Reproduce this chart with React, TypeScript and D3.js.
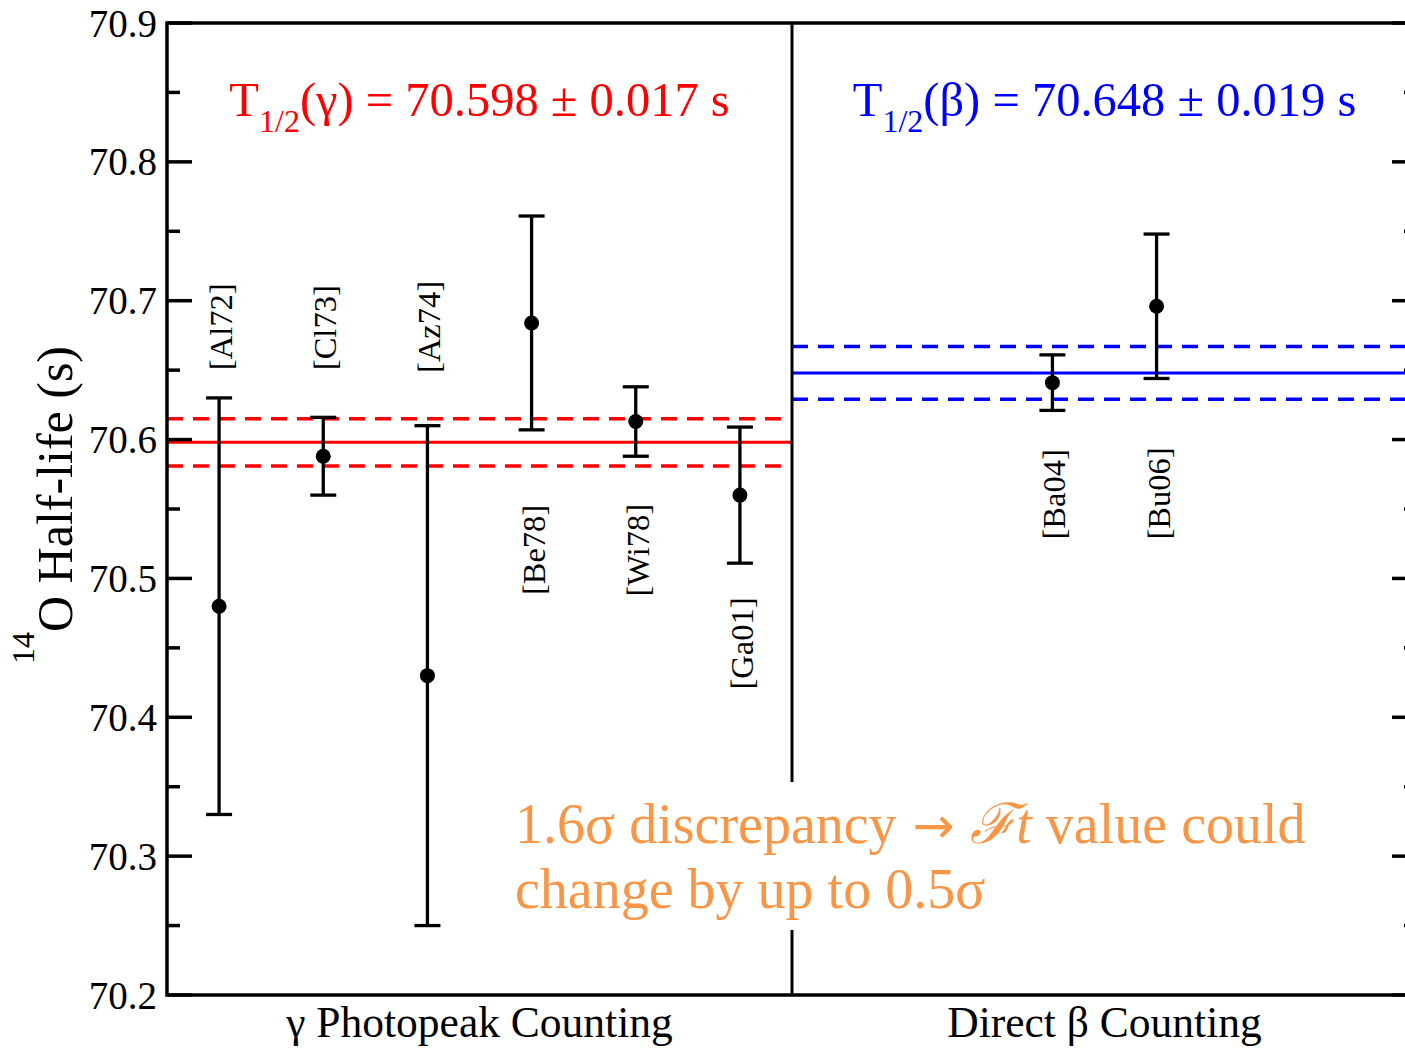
import React from "react";
import * as d3 from "d3";

// measurements of the 14O half-life
const refs = ["[Al72]", "[Cl73]", "[Az74]", "[Be78]", "[Wi78]", "[Ga01]", "[Ba04]", "[Bu06]"];
const slots = [0.5, 1.5, 2.5, 3.5, 4.5, 5.5, 8.5, 9.5];
const halfLives = [70.48, 70.588, 70.43, 70.684, 70.613, 70.56, 70.641, 70.696];
const errors = [0.15, 0.028, 0.18, 0.077, 0.025, 0.049, 0.02, 0.052];
const labelAt = [70.65, 70.65, 70.648, 70.488, 70.487, 70.42, 70.528, 70.528];

// weighted averages per method
const groups = ["γ Photopeak Counting", "Direct β Counting"];
const groupStart = [0, 6];
const groupEnd = [6, 12];
const fitSymbols = ["γ", "β"];
const fitValues = [70.598, 70.648];
const fitErrors = [0.017, 0.019];
const fitColors = ["#ff0000", "#0000ff"];

const yTicks = [70.2, 70.3, 70.4, 70.5, 70.6, 70.7, 70.8, 70.9];
const yMinor = [70.25, 70.35, 70.45, 70.55, 70.65, 70.75, 70.85];

const note = ["1.6σ discrepancy", "value could", "change by up to 0.5σ"];

const W = 1405;
const H = 1049;
const margin = { top: 23, right: -12, bottom: 54, left: 167 };
const font = "'Liberation Serif', 'Times New Roman', serif";

export default function App() {
  const x = d3.scaleLinear().domain([0, 12]).range([margin.left, W - margin.right]);
  const y = d3.scaleLinear().domain([70.2, 70.9]).range([H - margin.bottom, margin.top]);
  const x0 = x(0);
  const x1 = x(12);
  const yb = y(70.2);
  const yt = y(70.9);
  const cap = 13;

  return (
    <svg
      width={W}
      height={H}
      style={{ position: "absolute", left: 0, top: 0, background: "#fff" }}
      fontFamily={font}
    >
      {/* fit bands */}
      {fitValues.map((v, i) => (
        <g key={"fit" + i} stroke={fitColors[i]} strokeWidth={3}>
          <line x1={x(groupStart[i])} x2={x(groupEnd[i])} y1={y(v)} y2={y(v)} />
          {[-1, 1].map((s) => (
            <line
              key={s}
              x1={x(groupStart[i])}
              x2={x(groupEnd[i])}
              y1={y(v + s * fitErrors[i])}
              y2={y(v + s * fitErrors[i])}
              strokeDasharray="16 10"
              strokeWidth={3.5}
            />
          ))}
        </g>
      ))}

      {/* frame */}
      <g stroke="#000" strokeWidth={3.5} fill="none">
        <rect x={x0} y={yt} width={x1 - x0} height={yb - yt} />
        <line x1={x(6)} x2={x(6)} y1={yt} y2={yb} strokeWidth={3} />
        {yTicks.map((t) => (
          <g key={t}>
            <line x1={x0} x2={x0 + 25} y1={y(t)} y2={y(t)} />
            <line x1={x1} x2={x1 - 25} y1={y(t)} y2={y(t)} />
          </g>
        ))}
        {yMinor.map((t) => (
          <g key={t}>
            <line x1={x0} x2={x0 + 13} y1={y(t)} y2={y(t)} />
            <line x1={x1} x2={x1 - 13} y1={y(t)} y2={y(t)} />
          </g>
        ))}
      </g>

      {/* tick labels */}
      {yTicks.map((t) => (
        <text
          key={"l" + t}
          x={x0 - 10}
          y={y(t)}
          textAnchor="end"
          dominantBaseline="central"
          fontSize={39}
        >
          {t.toFixed(1)}
        </text>
      ))}

      {/* y axis title */}
      <text transform={`translate(72, 664) rotate(-90)`} fontSize={50}>
        <tspan fontSize={32} dy={-38}>14</tspan>
        <tspan dy={38}>O Half-life (s)</tspan>
      </text>

      {/* error bars */}
      {halfLives.map((v, i) => {
        const cx = x(slots[i]);
        const lo = y(v - errors[i]);
        const hi = y(v + errors[i]);
        return (
          <g key={refs[i]}>
            <g stroke="#000" strokeWidth={3.3}>
              <line x1={cx} x2={cx} y1={lo} y2={hi} />
              <line x1={cx - cap} x2={cx + cap} y1={lo} y2={lo} />
              <line x1={cx - cap} x2={cx + cap} y1={hi} y2={hi} />
            </g>
            <circle cx={cx} cy={y(v)} r={7.5} fill="#000" />
            <text
              transform={`translate(${cx + 2}, ${y(labelAt[i])}) rotate(-90)`}
              dominantBaseline="central"
              fontSize={32.5}
            >
              {refs[i]}
            </text>
          </g>
        );
      })}

      {/* fit titles */}
      {fitValues.map((v, i) => (
        <text
          key={"t" + i}
          x={(x(groupStart[i]) + x(groupEnd[i])) / 2}
          y={116}
          textAnchor="middle"
          fontSize={48.5}
          fill={fitColors[i]}
        >
          T
          <tspan fontSize={32} dy={16}>1/2</tspan>
          <tspan dy={-16}>
            ({fitSymbols[i]}) = {v.toFixed(3)} ± {fitErrors[i].toFixed(3)} s
          </tspan>
        </text>
      ))}

      {/* group labels */}
      {groups.map((g, i) => (
        <text
          key={g}
          x={(x(groupStart[i]) + x(groupEnd[i])) / 2}
          y={1037}
          textAnchor="middle"
          fontSize={43.5}
        >
          {g}
        </text>
      ))}

      {/* annotation */}
      <rect x={505} y={782} width={815} height={148} fill="#fff" />
      <g fill="#f79646" fontSize={56}>
        <text x={515} y={843}>
          {note[0]}
          <tspan fontFamily="'DejaVu Sans', sans-serif" fontSize={50}> → </tspan>
          <tspan fontFamily="'DejaVu Serif', serif" fontStyle="italic">ℱ</tspan>
          <tspan fontStyle="italic">t </tspan>
          {note[1]}
        </text>
        <text x={515} y={908}>
          {note[2]}
        </text>
      </g>
    </svg>
  );
}
